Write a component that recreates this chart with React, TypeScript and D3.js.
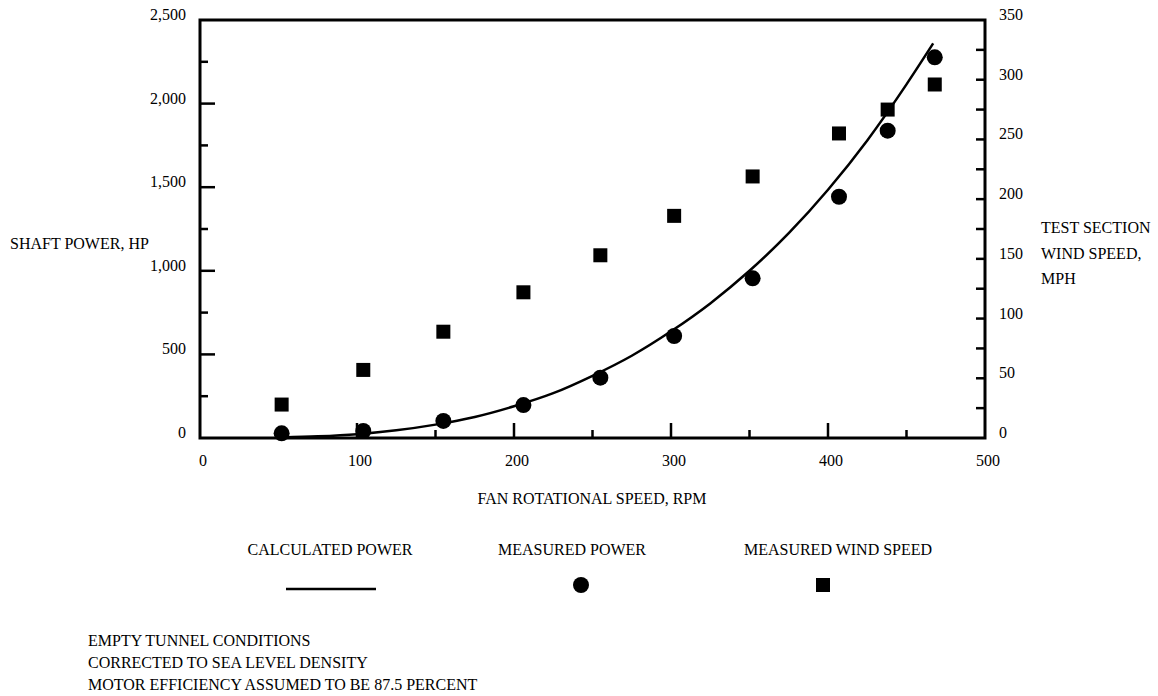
import React, { useEffect, useRef } from 'react';
import * as d3 from 'd3';

// measured points (shared rpm)
const rpm = [52, 104, 155, 206, 255, 302, 352, 407, 438, 468];
const measuredPower = [28, 42, 102, 197, 361, 610, 955, 1443, 1838, 2277];
const windSpeed = [28, 57, 89, 122, 153, 186, 219, 255, 275, 296];

// calculated power curve
const calcRpm = [52, 75, 100, 125, 150, 175, 200, 225, 250, 275, 300, 325, 350, 375, 400, 425, 450, 467];
const calcPower = [3, 10, 23, 46, 80, 126, 190, 268, 372, 492, 638, 805, 1000, 1225, 1485, 1780, 2115, 2360];

const xTicks = [0, 100, 200, 300, 400, 500];
const xMinor = [50, 150, 250, 350, 450];
const yLeftTicks = [0, 500, 1000, 1500, 2000, 2500];
const yLeftMinor = [250, 750, 1250, 1750, 2250];
const yRightTicks = [0, 50, 100, 150, 200, 250, 300, 350];
const yRightMinor = [25, 75, 125, 175, 225, 275, 325];

const legendItems = ['CALCULATED POWER', 'MEASURED POWER', 'MEASURED WIND SPEED'];
const notes = [
  'EMPTY TUNNEL CONDITIONS',
  'CORRECTED TO SEA LEVEL DENSITY',
  'MOTOR EFFICIENCY ASSUMED TO BE 87.5 PERCENT',
];

const FONT = '"Liberation Serif", "Times New Roman", serif';

const App = () => {
  const ref = useRef<SVGSVGElement | null>(null);

  useEffect(() => {
    if (!ref.current) return;
    const svg = d3.select(ref.current);
    svg.selectAll('*').remove();

    const x = d3.scaleLinear().domain([0, 500]).range([200, 985]);
    const yL = d3.scaleLinear().domain([0, 2500]).range([438, 20]);
    const yR = d3.scaleLinear().domain([0, 350]).range([438, 20]);

    const txt = (sel: any) => sel.attr('font-family', FONT).attr('font-size', 16).attr('fill', '#000');

    // frame
    svg.append('rect')
      .attr('x', x(0)).attr('y', yL(2500))
      .attr('width', x(500) - x(0)).attr('height', yL(0) - yL(2500))
      .attr('fill', 'none').attr('stroke', '#000').attr('stroke-width', 3);

    // x ticks
    const g = svg.append('g').attr('stroke', '#000').attr('stroke-width', 2.5);
    xTicks.slice(1, -1).forEach(v => g.append('line').attr('x1', x(v)).attr('x2', x(v)).attr('y1', yL(0)).attr('y2', yL(0) - 15));
    xMinor.forEach(v => g.append('line').attr('x1', x(v)).attr('x2', x(v)).attr('y1', yL(0)).attr('y2', yL(0) - 8));
    // left ticks
    yLeftTicks.slice(1, -1).forEach(v => g.append('line').attr('x1', x(0)).attr('x2', x(0) + 15).attr('y1', yL(v)).attr('y2', yL(v)));
    yLeftMinor.forEach(v => g.append('line').attr('x1', x(0)).attr('x2', x(0) + 8).attr('y1', yL(v)).attr('y2', yL(v)));
    // right ticks
    yRightTicks.slice(1, -1).concat(yRightMinor).forEach(v =>
      g.append('line').attr('x1', x(500)).attr('x2', x(500) - 9).attr('y1', yR(v)).attr('y2', yR(v)));

    // tick labels
    yLeftTicks.forEach(v => txt(svg.append('text'))
      .attr('x', 186).attr('y', yL(v)).attr('text-anchor', 'end').text(d3.format(',')(v)));
    yRightTicks.forEach(v => txt(svg.append('text'))
      .attr('x', 999).attr('y', yR(v)).text(v));
    xTicks.forEach(v => txt(svg.append('text'))
      .attr('x', x(v) + 3).attr('y', 466).attr('text-anchor', 'middle').text(v));

    // axis titles
    txt(svg.append('text')).attr('x', 10).attr('y', 249).text('SHAFT POWER, HP');
    ['TEST SECTION', 'WIND SPEED,', 'MPH'].forEach((t, i) =>
      txt(svg.append('text')).attr('x', 1041).attr('y', 233 + i * 25.5).text(t));
    txt(svg.append('text')).attr('x', 592).attr('y', 504).attr('text-anchor', 'middle').text('FAN ROTATIONAL SPEED, RPM');

    // calculated curve
    const line = d3.line<number>()
      .x((d, i) => x(calcRpm[i]))
      .y(d => yL(d))
      .curve(d3.curveMonotoneX);
    svg.append('path').attr('d', line(calcPower))
      .attr('fill', 'none').attr('stroke', '#000').attr('stroke-width', 2.5);

    // measured power
    svg.selectAll('.pw').data(measuredPower).join('circle')
      .attr('class', 'pw')
      .attr('cx', (d, i) => x(rpm[i])).attr('cy', d => yL(d)).attr('r', 8).attr('fill', '#000');

    // wind speed
    svg.selectAll('.ws').data(windSpeed).join('rect')
      .attr('class', 'ws')
      .attr('x', (d, i) => x(rpm[i]) - 7).attr('y', d => yR(d) - 7)
      .attr('width', 14).attr('height', 14).attr('fill', '#000');

    // legend
    const legendX = [330, 572, 838];
    legendItems.forEach((t, i) => txt(svg.append('text'))
      .attr('x', legendX[i]).attr('y', 555).attr('text-anchor', 'middle').text(t));
    svg.append('line').attr('x1', 286).attr('x2', 376).attr('y1', 589).attr('y2', 589)
      .attr('stroke', '#000').attr('stroke-width', 2.5);
    svg.append('circle').attr('cx', 581).attr('cy', 585).attr('r', 8).attr('fill', '#000');
    svg.append('rect').attr('x', 816).attr('y', 578).attr('width', 14).attr('height', 14).attr('fill', '#000');

    // notes
    notes.forEach((t, i) => txt(svg.append('text')).attr('x', 88).attr('y', 646 + i * 22).text(t));
  }, []);

  return (
    <svg ref={ref} width={1158} height={696}
      style={{ position: 'absolute', left: 0, top: 0, background: '#fff' }} />
  );
};

export default App;
